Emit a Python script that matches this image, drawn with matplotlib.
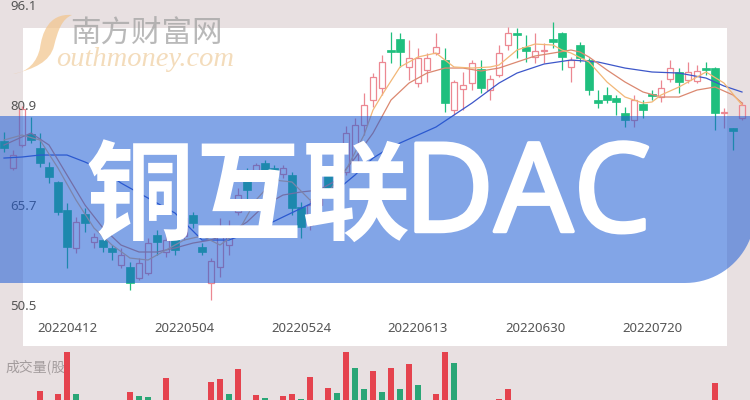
import numpy as np
import matplotlib
matplotlib.use("Agg")
import matplotlib.pyplot as plt
import matplotlib.patheffects as pe
from matplotlib.patches import Rectangle, PathPatch
from matplotlib.path import Path

plt.rcParams['font.family'] = ['Noto Sans', 'Noto Sans CJK SC', 'DejaVu Sans']

# --------------------------------------------------------------------------
# Data
# --------------------------------------------------------------------------
date_labels = ["20220412", "20220504", "20220524", "20220613", "20220630", "20220720"]
date_idx = [7, 20, 33, 46, 59, 72]
price_ticks = [96.1, 80.9, 65.7, 50.5]

opens = [75.35, 71.24, 74.74, 76.41, 74.28, 71.40, 69.12, 64.86, 59.08, 64.25,
         60.00, 60.30, 59.08, 56.50, 56.20, 54.52, 55.28, 61.06, 58.48, 60.60,
         60.91, 64.10, 59.24, 53.76, 56.20, 59.54, 64.56, 70.18, 69.72, 72.00,
         71.24, 70.33, 70.18, 65.32, 62.58, 65.62, 70.64, 68.20, 70.64, 72.16,
         77.78, 81.58, 83.40, 89.18, 90.85, 86.60, 84.16, 86.14, 88.72, 87.66,
         80.06, 83.25, 84.16, 86.29, 83.10, 85.38, 89.94, 91.76, 89.64, 88.12,
         89.10, 90.85, 91.76, 86.60, 89.94, 87.66, 81.58, 82.34, 81.88, 79.60,
         78.54, 80.97, 82.49, 82.04, 84.77, 85.84, 84.62, 84.47, 86.44, 86.44,
         79.60, 77.32, 78.84]
highs = [76.72, 73.98, 80.67, 79.00, 76.56, 72.16, 69.27, 65.92, 63.80, 65.16,
         61.36, 60.91, 59.54, 59.08, 56.96, 57.56, 60.60, 61.82, 60.91, 61.36,
         64.40, 64.56, 59.84, 57.56, 63.64, 63.34, 68.20, 71.24, 72.00, 72.46,
         71.70, 71.70, 70.64, 66.08, 66.38, 68.96, 71.24, 70.94, 77.63, 78.84,
         82.64, 85.68, 88.42, 91.92, 91.76, 90.70, 89.48, 88.72, 91.76, 89.48,
         84.62, 85.84, 87.66, 87.66, 85.38, 89.94, 92.68, 92.52, 91.46, 91.76,
         90.24, 93.44, 91.92, 88.12, 90.40, 87.96, 83.10, 83.56, 82.34, 80.52,
         82.34, 81.58, 83.10, 84.62, 87.66, 86.44, 87.36, 86.90, 87.36, 86.60,
         80.36, 77.32, 81.28]
lows = [73.68, 70.94, 74.44, 75.04, 71.40, 68.96, 64.10, 56.04, 58.32, 61.52,
        59.08, 58.48, 57.26, 56.04, 52.70, 54.22, 54.98, 58.02, 57.72, 58.02,
        60.30, 62.12, 58.02, 51.18, 54.68, 58.02, 64.10, 66.08, 69.42, 68.66,
        68.66, 69.72, 64.10, 60.60, 61.82, 65.16, 67.14, 67.60, 70.18, 71.70,
        76.26, 80.52, 82.34, 87.20, 86.60, 84.62, 83.56, 84.32, 88.42, 79.76,
        79.30, 80.06, 83.10, 82.64, 81.58, 85.08, 89.18, 87.96, 87.36, 87.20,
        87.20, 89.48, 86.14, 84.32, 87.36, 82.34, 80.36, 81.12, 79.30, 77.48,
        77.48, 78.84, 81.58, 81.28, 84.32, 82.64, 84.16, 84.16, 85.38, 77.02,
        77.32, 73.98, 78.54]
closes = [74.28, 73.22, 80.21, 75.50, 72.00, 69.88, 64.56, 59.24, 63.04, 62.88,
          60.76, 59.24, 58.48, 58.02, 53.76, 56.80, 59.84, 60.00, 60.30, 58.78,
          63.64, 62.88, 58.48, 57.11, 61.82, 61.52, 67.14, 67.90, 71.70, 69.42,
          69.42, 71.24, 65.16, 62.28, 65.62, 68.20, 68.20, 70.18, 76.56, 77.78,
          80.82, 85.08, 87.36, 88.88, 88.88, 87.96, 87.96, 87.96, 89.64, 81.12,
          84.32, 83.86, 87.20, 83.40, 84.77, 88.72, 91.76, 91.46, 89.03, 89.03,
          89.18, 90.40, 88.12, 87.66, 87.96, 83.10, 81.12, 81.58, 81.28, 78.54,
          81.58, 80.06, 82.19, 83.40, 86.44, 84.32, 85.84, 85.99, 86.14, 79.60,
          79.76, 76.87, 80.82]

# moving averages, sampled at the candle indices where they were read
ma_fast_idx = [0, 2, 4, 6, 8, 10, 12, 14, 16, 18, 20, 22, 24, 26, 28, 30, 32, 34,
               36, 38, 40, 41, 42, 44, 46, 48, 50, 52, 54, 55, 57, 59, 61, 62, 63,
               65, 67, 69, 71, 72, 73, 75, 77, 78, 80, 82]
ma_fast = [75.50, 76.26, 75.50, 71.24, 66.38, 62.12, 59.54, 57.56, 57.26, 58.78,
           60.30, 60.91, 59.54, 61.52, 66.38, 69.42, 69.12, 66.38, 67.60, 70.94,
           76.26, 80.06, 82.34, 86.60, 88.12, 88.72, 86.60, 86.44, 86.60, 86.90,
           89.18, 90.09, 89.94, 89.18, 88.72, 87.36, 84.32, 82.04, 81.12, 81.28,
           82.34, 83.56, 85.08, 85.84, 84.16, 80.82]
ma_mid_idx = [0, 2, 3, 5, 7, 9, 11, 13, 15, 17, 19, 21, 23, 25, 27, 29, 31, 33,
              35, 37, 39, 41, 43, 45, 47, 49, 51, 53, 55, 57, 59, 61, 63, 64, 65,
              67, 69, 71, 73, 75, 77, 79, 81, 82]
ma_mid = [74.74, 75.96, 76.56, 74.74, 70.18, 65.62, 62.12, 59.54, 58.48, 58.48,
          59.08, 59.84, 60.30, 61.36, 63.04, 65.62, 67.14, 67.60, 67.90, 69.42,
          72.76, 76.56, 81.58, 84.16, 85.68, 86.44, 86.44, 85.99, 86.44, 87.36,
          88.27, 88.72, 89.18, 88.88, 88.12, 86.14, 84.32, 82.80, 82.04, 82.04,
          83.10, 83.56, 82.34, 81.12]
ma_slow_idx = [0, 2, 4, 7, 9, 11, 13, 16, 19, 22, 25, 28, 31, 34, 37, 39, 41, 43,
               46, 48, 50, 52, 55, 57, 60, 63, 66, 69, 72, 75, 78, 80, 82]
ma_slow = [72.76, 72.92, 73.22, 73.22, 72.16, 70.94, 68.96, 66.68, 64.40, 60.30,
           60.30, 61.82, 63.80, 65.77, 67.90, 70.18, 72.76, 74.44, 76.26, 77.48,
           79.30, 81.12, 84.16, 85.68, 87.05, 87.66, 87.36, 86.44, 85.84, 85.68,
           84.92, 83.71, 82.80]

volumes = [45, 38, 52, 41, 69, 50, 66, 120, 66, 47,
           35, 40, 44, 52, 68, 64, 63, 49, 82, 42,
           55, 46, 39, 78, 81, 66, 91, 57, 65, 62,
           50, 64, 66, 61, 83, 56, 72, 67, 120, 92,
           71, 89, 68, 92, 71, 96, 75, 55, 66, 120,
           97, 52, 48, 54, 50, 61, 71, 45, 40, 42,
           44, 38, 41, 43, 39, 46, 40, 42, 37, 44,
           41, 39, 43, 40, 38, 42, 45, 41, 40, 77,
           50, 45, 42]
vol_up = [1, 0, 1, 0, 1, 0, 1, 1, 0, 0,
          1, 0, 0, 1, 1, 0, 0, 0, 1, 0,
          1, 0, 0, 1, 1, 0, 1, 0, 1, 0,
          0, 1, 1, 0, 1, 0, 1, 0, 1, 0,
          0, 1, 0, 1, 0, 1, 0, 0, 1, 1,
          0, 1, 1, 0, 1, 1, 1, 0, 0, 1,
          1, 0, 0, 1, 0, 0, 0, 0, 0, 0,
          1, 0, 0, 1, 1, 0, 1, 1, 0, 1,
          1, 0, 1]

# --------------------------------------------------------------------------
# Styling
# --------------------------------------------------------------------------
W, H = 750, 400
BG = "#E8E0E1"
UP = "#EC8892"
DOWN = "#1FBF7E"
VOL_UP = "#E5434E"
VOL_DOWN = "#2AA676"
CJK = ["Noto Sans CJK SC", "DejaVu Sans"]


def fx(x):
    return x / W


def fy(y):
    return 1 - y / H


fig = plt.figure(figsize=(7.5, 4), dpi=100, facecolor=BG)

# white chart panel
fig.add_artist(Rectangle((fx(23), fy(346)), (727 - 23) / W, (346 - 28) / H,
                         transform=fig.transFigure, facecolor="white",
                         edgecolor="none", zorder=-5))

# price panel: candle i sits at pixel x = 4 + 9 i
ax = fig.add_axes([0, fy(310), 1, 310 / H])
ax.patch.set_alpha(0)
ax.set_xlim(-4 / 9, 746 / 9)
ax.set_ylim(49.664, 96.784)
for s in ax.spines.values():
    s.set_visible(False)

o = np.array(opens)
c = np.array(closes)
hi = np.array(highs)
lo = np.array(lows)
x = np.arange(len(o))
up = c >= o
body_lo = np.minimum(o, c)
body_hi = np.maximum(o, c)
body_h = np.maximum(body_hi - body_lo, 0.12)

ax.vlines(x[up], body_hi[up], hi[up], color=UP, lw=0.9)
ax.vlines(x[up], lo[up], body_lo[up], color=UP, lw=0.9)
ax.vlines(x[~up], lo[~up], hi[~up], color=DOWN, lw=0.9)
ax.bar(x[up], body_h[up], bottom=body_lo[up], width=0.72, fill=False,
       edgecolor=UP, linewidth=0.9)
ax.bar(x[~up], body_h[~up], bottom=body_lo[~up], width=0.78, color=DOWN,
       edgecolor=DOWN, linewidth=0.5)

ax.plot(ma_slow_idx, ma_slow, color="#3D57C9", lw=0.9)
ax.plot(ma_mid_idx, ma_mid, color="#DB8870", lw=0.9)
ax.plot(ma_fast_idx, ma_fast, color="#F2B777", lw=0.9)

ax.set_yticks(price_ticks)
ax.set_yticklabels([f"{v:.1f}" for v in price_ticks])
ax.tick_params(axis="y", length=0, pad=-7.2, labelsize=9.5, labelcolor="#555555")
for lbl in ax.get_yticklabels():
    lbl.set_horizontalalignment("left")
ax.set_xticks(date_idx)
ax.set_xticklabels(date_labels)
ax.tick_params(axis="x", length=0, pad=9, labelsize=9.5, labelcolor="#555555")

# volume panel
vax = fig.add_axes([0, 0, 1, 48 / H])
vax.patch.set_alpha(0)
vax.set_xlim(-4 / 9, 746 / 9)
vax.set_ylim(60, 108)
vax.axis("off")
vcol = [VOL_UP if u else VOL_DOWN for u in vol_up]
vax.bar(x, volumes, width=0.66, color=vcol, zorder=3)
fig.text(fx(5), fy(367), "成交量(股)", fontsize=10, color="#A39C9D",
         family=CJK, va="center", ha="left", zorder=-1)

# banner with rounded bottom-right corner
r = 70
cx, cy = 755 - r, H - 283 + r
t = np.linspace(0, -np.pi / 2, 24)
arc = [(cx + r * np.cos(a), cy + r * np.sin(a)) for a in t]
verts = [(-10, H - 116), (755, H - 116)] + arc + [(-10, H - 283), (-10, H - 116)]
verts = [(vx / W, vy / H) for vx, vy in verts]
codes = [Path.MOVETO] + [Path.LINETO] * (len(verts) - 2) + [Path.CLOSEPOLY]
fig.add_artist(PathPatch(Path(verts, codes), transform=fig.transFigure,
                         facecolor="#1C5BD5", alpha=0.55, edgecolor="none",
                         zorder=2))
fig.text(fx(86), fy(200), "铜互联", fontsize=78, color="white",
         fontweight="heavy", family=CJK, va="center", ha="left", zorder=3)
fig.text(fx(404), fy(199), "DAC", fontsize=89, color="white",
         family="Noto Sans", va="center", ha="left", zorder=3,
         path_effects=[pe.withStroke(linewidth=2.5, foreground="white")])

# watermark: swoosh logo + site name
swoosh = [(72, 15), (48, 13), (42, 34), (40, 48), (37, 62), (28, 72), (13, 74),
          (34, 69), (50, 62), (54, 46), (58, 30), (62, 19), (72, 15)]
swoosh = [(sx / W, 1 - sy / H) for sx, sy in swoosh]
scodes = [Path.MOVETO] + [Path.CURVE4] * 12
fig.add_artist(PathPatch(Path(swoosh, scodes), transform=fig.transFigure,
                         facecolor="#F2C48A", alpha=0.7, edgecolor="none",
                         zorder=4))
fig.text(fx(56), fy(60), "outhmoney.com", fontsize=20.5, color="#F2D6B0",
         alpha=0.85, family="Liberation Serif", style="italic", va="center",
         ha="left", zorder=4)
fig.text(fx(70), fy(34), "南方财富网", fontsize=22, color="#A2A2A2", alpha=0.75,
         family=CJK, va="center", ha="left", zorder=4)

fig.savefig("out.png", dpi=100, facecolor=BG)
